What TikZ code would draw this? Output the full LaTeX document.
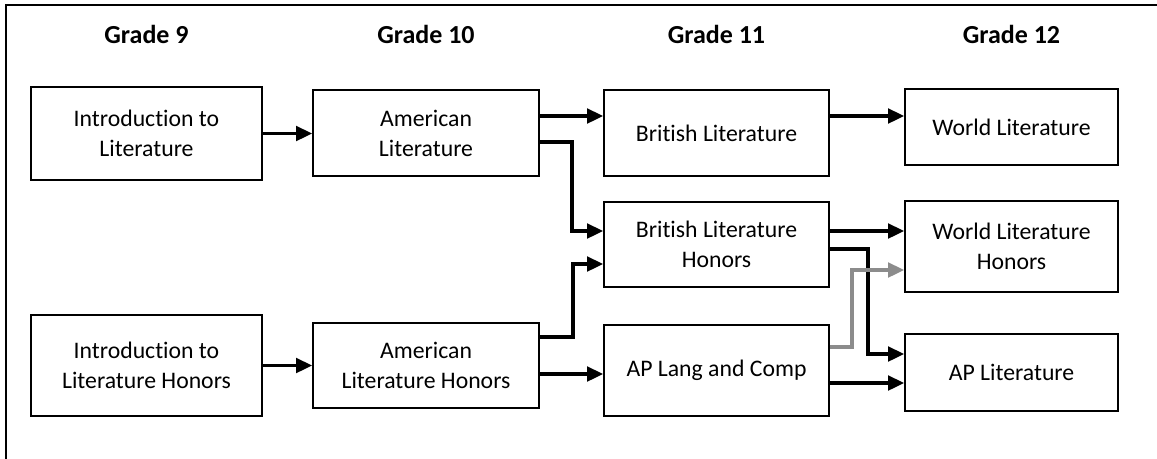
\documentclass[tikz,border=0pt]{standalone}
\usepackage{fontspec}
\setmainfont{Carlito}[Ligatures=NoCommon]
\usetikzlibrary{arrows.meta,calc}
\definecolor{linkgray}{HTML}{8C8C8C}
\tikzset{
  course/.style={draw=black, line width=1.4pt, fill=white, align=center, inner sep=2pt,
    font=\fontsize{17.8pt}{22.5pt}\selectfont},
  gradehead/.style={font=\bfseries\fontsize{19.5pt}{23pt}\selectfont, anchor=base},
  arr/.style={line width=2.4pt, -{Triangle[length=12pt,width=11pt]}},
  grayarr/.style={arr, draw=linkgray},
}
\begin{document}
\begin{tikzpicture}[x=0.75pt,y=-0.75pt]
\useasboundingbox (0,0) rectangle (1157,458);
\draw[line width=1.5pt] (6,470) -- (6,5) -- (1170,5);
% headers
\node[gradehead] (g9) at (146.5,43) {Grade 9};
\node[gradehead] (g10) at (426,43) {Grade 10};
\node[gradehead] (g11) at (716.5,43) {Grade 11};
\node[gradehead] (g12) at (1011.5,43) {Grade 12};
% boxes
\node[course, minimum width=173.25pt, minimum height=69.75pt] (intro) at (146.5,133.5) {Introduction to\\Literature};
\node[course, minimum width=169.5pt, minimum height=64.5pt] (amer) at (426,133) {American\\Literature};
\node[course, minimum width=168.75pt, minimum height=64.5pt] (brit) at (716.5,133) {British Literature};
\node[course, minimum width=159.75pt, minimum height=57pt] (world) at (1011.5,127) {World Literature};
\node[course, minimum width=168.75pt, minimum height=63.75pt] (blh) at (716.5,244.5) {British Literature\\Honors};
\node[course, minimum width=159.75pt, minimum height=68.25pt] (wlh) at (1011.5,246.5) {World Literature\\Honors};
\node[course, minimum width=173.25pt, minimum height=75.75pt] (introh) at (146.5,365.5) {Introduction to\\Literature Honors};
\node[course, minimum width=169.5pt, minimum height=63.75pt] (amerh) at (426,365.5) {American\\Literature Honors};
\node[course, minimum width=168.75pt, minimum height=68.25pt] (aplang) at (716.5,370.5) {AP Lang and Comp};
\node[course, minimum width=159.75pt, minimum height=57.75pt] (aplit) at (1011.5,372.5) {AP Literature};
% connectors
\draw[arr] (intro.east) -- (intro.east -| amer.west);
\draw[arr] ([yshift=12.75pt]amer.east) -- ([yshift=12.75pt]amer.east -| brit.west);
\draw[arr] ([yshift=-6.75pt]amer.east) -- ++(32,0) |- ([yshift=10.125pt]blh.west);
\draw[arr] ([yshift=12.75pt]brit.east) -- ([yshift=12.75pt]brit.east -| world.west);
\draw[arr] (introh.east) -- (introh.east -| amerh.west);
\draw[arr] ([yshift=21.375pt]amerh.east) -- ++(33,0) |- ([yshift=-14.625pt]blh.west);
\draw[arr] ([yshift=-6.375pt]amerh.east) -- ([yshift=-6.375pt]amerh.east -| aplang.west);
\draw[arr] ([yshift=10.125pt]blh.east) -- ([yshift=10.125pt]blh.east -| wlh.west);
\draw[arr] ([yshift=-3.375pt]blh.east) -- ++(38,0) |- ([yshift=13.875pt]aplit.west);
\draw[grayarr] ([yshift=17.625pt]aplang.east) -- ++(22,0) |- ([yshift=-17.625pt]wlh.west);
\draw[arr] ([yshift=-9.375pt]aplang.east) -- ([yshift=-9.375pt]aplang.east -| aplit.west);
\end{tikzpicture}
\end{document}
